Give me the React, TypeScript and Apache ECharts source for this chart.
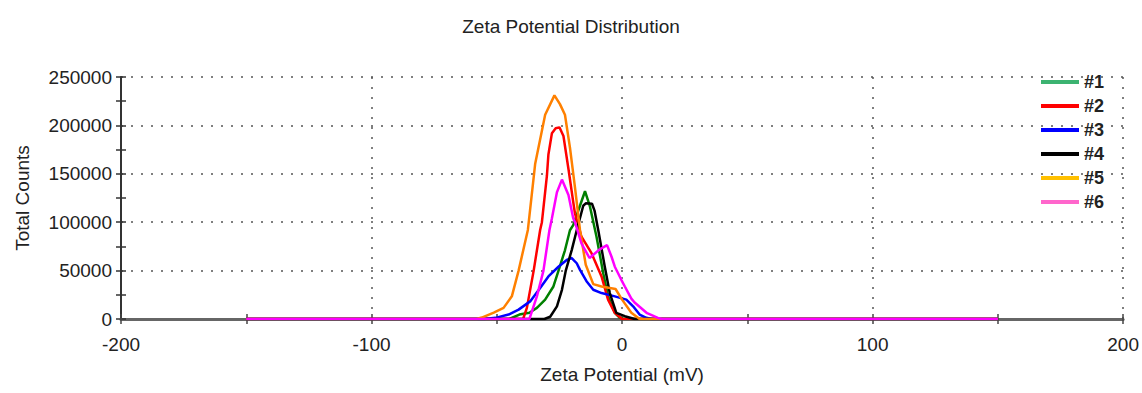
import React, { useEffect, useRef } from "react";
import * as echarts from "echarts";

const titleText = "Zeta Potential Distribution";
const xName = "Zeta Potential (mV)";
const yName = "Total Counts";
const seriesNames = ["#1", "#2", "#3", "#4", "#5", "#6"];
const lineColors = ["#008000", "#ff0000", "#0000ff", "#000000", "#ff8000", "#ff00ff"];
const legendColors = ["#3cb371", "#ff0000", "#0000ff", "#000000", "#ffc000", "#ff66cc"];

const s1: number[][] = [
  [-150, 0], [-45, 0], [-41, 4600], [-37, 6500], [-34, 11500], [-30.7, 20000], [-27.4, 33600],
  [-25.4, 49700], [-22.8, 71000], [-20.8, 91700], [-19.5, 97000], [-16.8, 117000], [-14.8, 132000],
  [-12.8, 116000], [-10.2, 85000], [-7.5, 47000], [-5.6, 23400], [-2.9, 6400], [-0.9, 1200], [1, 0], [150, 0],
];
const s2: number[][] = [
  [-150, 0], [-39.5, 0], [-38, 11500], [-35.3, 49700], [-32.7, 92000], [-32, 100000], [-30, 148000],
  [-29.4, 170000], [-28, 192000], [-26.5, 197000], [-25, 198000], [-23.4, 189000], [-21.4, 155000],
  [-19.5, 121000], [-18.8, 109000], [-16.2, 85000], [-12.2, 68000], [-8.2, 44000], [-5.6, 20000],
  [-2.9, 6400], [0, 0], [150, 0],
];
const s3: number[][] = [
  [-150, 0], [-55, 0], [-50.5, 1200], [-45.3, 4600], [-41.3, 9700], [-36.7, 18200], [-32.7, 32000],
  [-29.4, 44000], [-25.4, 54000], [-22.1, 61000], [-20.1, 63000], [-18.1, 57600], [-16.8, 50700],
  [-14.2, 39000], [-11.5, 30200], [-8.2, 26800], [-2.9, 23400], [1.7, 20000], [4.4, 13100], [7, 4600],
  [9.7, 1200], [12, 0], [150, 0],
];
const s4: number[][] = [
  [-150, 0], [-31, 0], [-28.7, 2300], [-26, 13100], [-24, 30200], [-22.5, 49700], [-20.1, 71200],
  [-18.1, 91700], [-15.5, 117000], [-14.5, 119500], [-12, 119000], [-11, 112000], [-9.5, 91700],
  [-6.9, 54000], [-4.9, 26800], [-2.3, 6400], [1.1, 2900], [5, 0], [150, 0],
];
const s5: number[][] = [
  [-150, 0], [-58, 0], [-56, 1500], [-51.2, 6600], [-47.3, 11500], [-44, 23400], [-41.3, 50000],
  [-37.6, 92000], [-34.7, 160000], [-30.7, 211000], [-27, 231000], [-24.8, 222000], [-22.8, 211000],
  [-20.8, 177000], [-18.8, 136000], [-16.8, 92000], [-14.5, 56000], [-11.5, 36000], [-8.2, 33600],
  [-2.6, 31000], [0, 20000], [3.7, 6400], [7, 0], [150, 0],
];
const s6: number[][] = [
  [-150, 0], [-37, 0], [-34, 23400], [-31.4, 49700], [-29, 91700], [-28, 104000], [-26, 131000],
  [-24, 144000], [-21.4, 128000], [-19.5, 104000], [-18.8, 100000], [-16.2, 78000], [-13, 63000],
  [-8.9, 72000], [-6, 76300], [-4.2, 64300], [-2.9, 54000], [-0.3, 40500], [1.1, 33600], [3.7, 21000],
  [5, 17000], [10, 6000], [14.3, 1200], [16, 0], [150, 0],
];
const allSeries = [s1, s2, s3, s4, s5, s6];

const FONT = "Liberation Sans, Arial, sans-serif";
const TXT = "#222";

export default function App() {
  const ref = useRef<HTMLDivElement>(null);
  useEffect(() => {
    if (!ref.current) return;
    const chart = echarts.init(ref.current, null, { renderer: "svg" });
    const gridDots = { color: "#555", width: 1.5, type: [2, 8] as any };
    const baseX = {
      type: "value",
      min: -200,
      max: 200,
      interval: 100,
      axisLine: { show: true, onZero: false, lineStyle: { color: "#666", width: 3 } },
      minorTick: { show: true, splitNumber: 2, length: 5, lineStyle: { color: "#444", width: 1.5 } },
      axisTick: { show: true, length: 5, lineStyle: { color: "#444", width: 1.5 } },
    };
    const baseY = {
      type: "value",
      min: 0,
      max: 250000,
      interval: 50000,
      axisLine: { show: true, onZero: false, lineStyle: { color: "#333", width: 2 } },
      minorTick: { show: true, splitNumber: 2, length: 5, lineStyle: { color: "#333", width: 1.5 } },
      axisTick: { show: true, length: 5, lineStyle: { color: "#333", width: 1.5 } },
    };
    chart.setOption({
      animation: false,
      backgroundColor: "#fff",
      title: {
        text: titleText,
        left: "center",
        top: 12,
        textStyle: { fontFamily: FONT, fontSize: 19, fontWeight: "normal", color: TXT },
      },
      legend: {
        orient: "vertical",
        left: 1036,
        top: 68,
        itemWidth: 38,
        itemHeight: 4,
        itemGap: 6,
        icon: "rect",
        textStyle: { fontFamily: FONT, fontSize: 18, fontWeight: "bold", color: TXT },
        data: seriesNames.map((n, i) => ({ name: n, itemStyle: { color: legendColors[i] } })),
      },
      grid: { left: 121, right: 15, top: 77, bottom: 74 },
      xAxis: [
        {
          ...baseX,
          name: xName,
          nameLocation: "middle",
          nameGap: 46,
          nameTextStyle: { fontFamily: FONT, fontSize: 19, color: TXT },
          axisLabel: { fontFamily: FONT, fontSize: 19, color: TXT, margin: 16 },
          splitLine: { show: true, lineStyle: gridDots },
        },
        {
          ...baseX,
          position: "bottom",
          axisLine: { show: false, onZero: false },
          axisLabel: { show: false },
          splitLine: { show: false },
          axisTick: { ...baseX.axisTick, inside: true },
          minorTick: { ...baseX.minorTick },
        },
      ],
      yAxis: [
        {
          ...baseY,
          name: yName,
          nameLocation: "middle",
          nameGap: 89,
          nameTextStyle: { fontFamily: FONT, fontSize: 19, color: TXT },
          axisLabel: {
            fontFamily: FONT,
            fontSize: 19,
            color: TXT,
            margin: 9,
            formatter: (v: number) => String(v),
          },
          splitLine: { show: true, lineStyle: gridDots },
        },
        {
          ...baseY,
          position: "left",
          axisLine: { show: false, onZero: false },
          axisLabel: { show: false },
          splitLine: { show: false },
          axisTick: { ...baseY.axisTick, inside: true },
          minorTick: { ...baseY.minorTick },
        },
      ],
      series: allSeries.map((d, i) => ({
        name: seriesNames[i],
        type: "line",
        data: d,
        xAxisIndex: 0,
        yAxisIndex: 0,
        symbol: "none",
        color: lineColors[i],
        lineStyle: { color: lineColors[i], width: 2.5 },
      })),
    });
    return () => chart.dispose();
  }, []);
  return <div ref={ref} style={{ width: 1142, height: 393, position: "absolute", left: 0, top: 0 }} />;
}
